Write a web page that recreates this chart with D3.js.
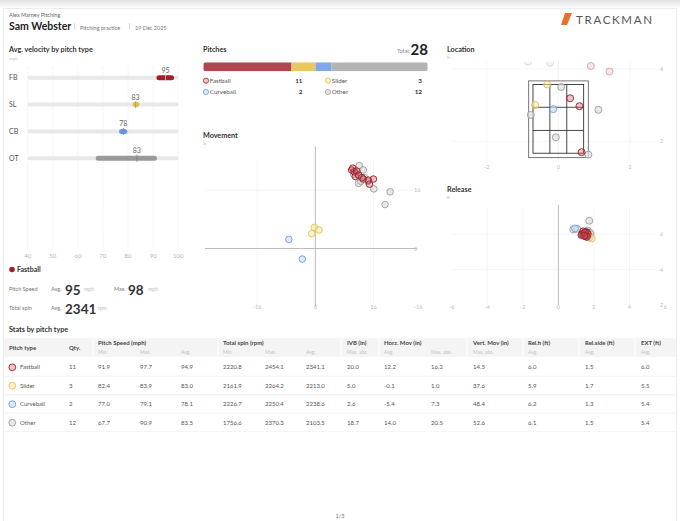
<!DOCTYPE html>
<html>
<head>
<meta charset="utf-8">
<script src="https://cdn.jsdelivr.net/npm/d3@7"></script>
<style>
  html, body { margin: 0; padding: 0; background: #fff; }
  svg { display: block; font-family: Lato, "Open Sans", sans-serif; }
</style>
</head>
<body>
<svg id="page" width="680" height="521"></svg>
<script>
/* global d3 */
const pitchTypes = ['Fastball', 'Slider', 'Curveball', 'Other'];
const pitchCodes = ['FB', 'SL', 'CB', 'OT'];
const pitchCounts = [11, 3, 2, 12];
const speedMin = [91.9, 82.4, 77.0, 67.7];
const speedMax = [97.7, 83.9, 79.1, 90.9];
const speedAvg = [94.9, 83.0, 78.1, 83.5];
const speedLabels = [95, 83, 78, 83];
const spinMin = [2220.8, 2161.9, 2226.7, 1756.6];
const spinMax = [2454.1, 2264.2, 2250.4, 2370.3];
const spinAvg = [2341.1, 2213.0, 2238.6, 2103.5];
const ivbMaxAbs = [20.0, 5.0, 2.6, 18.7];
const horzAvg = [12.2, -0.1, -5.4, 14.0];
const horzMaxAbs = [16.2, 1.0, 7.3, 20.5];
const vertMaxAbs = [14.5, 37.6, 48.4, 52.6];
const relHeightAvg = [6.0, 5.9, 6.2, 6.1];
const relSideAvg = [1.5, 1.7, 1.3, 1.5];
const extAvg = [6.0, 5.5, 5.4, 5.4];

const velocityTicks = [40, 50, 60, 70, 80, 90, 100];
const movementTicks = [-16, 0, 16];
const locationTicksX = [-2, 0, 2];
const locationTicksY = [2, 4];
const releaseTicksX = [-6, -4, -2, 0, 2, 4, 6];
const releaseTicksY = [2, 4, 6];

// [horizontal break, vertical break] in inches
const moveFastball = [[10.0, 21.6], [10.7, 21.1], [10.3, 22.1], [11.4, 21.3], [11.0, 19.8], [11.9, 20.2],
  [12.8, 19.5], [13.2, 19.1], [14.6, 18.8], [16.0, 19.1], [14.9, 17.7]];
const moveSlider = [[-0.3, 5.8], [1.0, 5.1], [-1.0, 4.1]];
const moveCurveball = [[-7.3, 2.5], [-3.6, -2.9]];
const moveOther = [[12.1, 22.8], [13.2, 21.6], [11.9, 17.9], [16.1, 16.4], [20.6, 15.6], [19.2, 12.1],
  [11.0, 21.0], [12.0, 20.0], [13.5, 19.5], [14.5, 18.5], [10.5, 20.5], [12.5, 18.5]];

// [side, height] at the plate in feet
const locFastball = [[0.33, 3.19], [0.59, 2.97], [0.65, 1.70], [0.91, 4.08], [1.43, 3.93], [1.2, 4.6],
  [0.4, 4.5], [1.6, 1.2], [-0.2, 4.7], [0.9, 1.1], [3.1, 3.3]];
const locSlider = [[-0.31, 3.57], [-0.65, 3.0], [-1.1, 1.0]];
const locCurveball = [[-0.14, 2.89], [-0.5, 0.9]];
const locOther = [[0.08, 3.5], [1.12, 2.87], [-0.77, 2.73], [-0.07, 2.11], [0.84, 1.63], [-0.23, 4.17],
  [-0.84, 4.2], [-0.5, 4.6], [1.8, 4.9], [0.2, 0.8], [-1.5, 4.5], [2.9, 2.5]];

// [release side, release height] in feet
const relFastball = [[1.45, 6.05], [1.5, 5.95], [1.35, 6.0], [1.6, 6.1], [1.55, 5.9], [1.4, 6.15],
  [1.65, 6.0], [1.3, 5.95], [1.5, 6.1], [1.6, 5.85], [1.45, 5.9]];
const relSlider = [[1.88, 5.76], [1.7, 5.95], [1.55, 6.0]];
const relCurveball = [[0.94, 6.32], [1.6, 6.1]];
const relOther = [[1.74, 6.75], [0.84, 6.26], [1.05, 6.3], [1.5, 6.0], [1.6, 6.1], [1.7, 5.9],
  [1.8, 6.0], [1.55, 5.85], [1.65, 6.2], [1.4, 6.05], [1.75, 5.8], [1.8, 6.05]];

const strokeColors = ['#9b1d25', '#e3c04c', '#6c9de3', '#9c9c9c'];
const fillColors = ['rgba(200,90,100,0.35)', 'rgba(250,232,165,0.55)', 'rgba(205,222,250,0.7)', 'rgba(222,222,222,0.7)'];
const barColors = ['#b0474f', '#e6c85c', '#7ea8ea', '#b3b3b3'];
const velColors = ['#a11f28', '#e3bf4a', '#6d9be0', '#9a9a9a'];

const svg = d3.select('#page');

function text(g, x, y, str, opts = {}) {
  return g.append('text')
    .attr('x', x)
    .attr('y', y)
    .attr('font-size', opts.size || 6)
    .attr('font-weight', opts.weight || 'normal')
    .attr('fill', opts.color || '#555')
    .attr('text-anchor', opts.anchor || 'start')
    .attr('letter-spacing', opts.spacing || null)
    .text(str);
}

// page card + top shadow
const defs = svg.append('defs');
const shade = defs.append('linearGradient').attr('id', 'shade').attr('x1', 0).attr('x2', 0).attr('y1', 0).attr('y2', 1);
shade.append('stop').attr('offset', '0%').attr('stop-color', '#e2e2e2');
shade.append('stop').attr('offset', '100%').attr('stop-color', '#fff');
svg.append('rect').attr('x', 0).attr('y', 0).attr('width', 680).attr('height', 9).attr('fill', 'url(#shade)');
svg.append('rect').attr('x', 3.5).attr('y', 8.5).attr('width', 673).attr('height', 520)
  .attr('fill', '#fff').attr('stroke', '#ececec');

// header
text(svg, 9, 17, 'Alex Marney Pitching', { size: 5.5, color: '#666' });
text(svg, 9, 30, 'Sam Webster', { size: 10.5, weight: 'bold', color: '#222' });
svg.append('line').attr('x1', 74.5).attr('x2', 74.5).attr('y1', 23).attr('y2', 30).attr('stroke', '#ddd');
text(svg, 80, 29.5, 'Pitching practice', { size: 5.5, color: '#777' });
svg.append('line').attr('x1', 129.5).attr('x2', 129.5).attr('y1', 23).attr('y2', 30).attr('stroke', '#ddd');
text(svg, 135, 29.5, '19 Dec 2025', { size: 5.5, color: '#777' });
svg.append('path').attr('d', 'M565,13 L572,13 L567,25 L561,25 Z').attr('fill', '#e4712e');
text(svg, 576, 24, 'TRACKMAN', { size: 11.5, color: '#555', spacing: 1.7 });

// ---- Avg. velocity by pitch type ----
text(svg, 9, 52, 'Avg. velocity by pitch type', { size: 7.2, weight: 'bold', color: '#333' });
text(svg, 9, 60, 'mph', { size: 4.5, color: '#bbb' });

const vx = d3.scaleLinear().domain([40, 100]).range([27.7, 178.3]);
const vy = d3.scalePoint().domain(pitchCodes).range([77.7, 158.3]);
const vel = svg.append('g');

vel.selectAll('line.grid').data(velocityTicks).enter().append('line')
  .attr('x1', d => vx(d)).attr('x2', d => vx(d)).attr('y1', 67).attr('y2', 250)
  .attr('stroke', '#ddd').attr('stroke-width', 0.6).attr('stroke-dasharray', '1,1.5');
vel.selectAll('text.tick').data(velocityTicks).enter().append('text')
  .attr('x', d => vx(d)).attr('y', 258).attr('text-anchor', 'middle')
  .attr('font-size', 6).attr('fill', '#b5b5b5').text(d => d);

vel.selectAll('text.code').data(pitchCodes).enter().append('text')
  .attr('x', 9).attr('y', d => vy(d) + 2.5).attr('font-size', 7).attr('fill', '#555').text(d => d);
vel.selectAll('rect.track').data(pitchCodes).enter().append('rect')
  .attr('x', vx(40)).attr('y', d => vy(d) - 2).attr('width', vx(100) - vx(40)).attr('height', 4)
  .attr('rx', 2).attr('fill', '#e8e8e8');
vel.selectAll('rect.range').data(pitchCodes).enter().append('rect')
  .attr('x', (d, i) => vx(speedMin[i]) - 1.5)
  .attr('y', d => vy(d) - 2.5)
  .attr('width', (d, i) => vx(speedMax[i]) - vx(speedMin[i]) + 3)
  .attr('height', 5).attr('rx', 2.5)
  .attr('fill', (d, i) => velColors[i]);
vel.selectAll('line.avg').data(pitchCodes).enter().append('line')
  .attr('x1', (d, i) => vx(speedAvg[i])).attr('x2', (d, i) => vx(speedAvg[i]))
  .attr('y1', d => vy(d) - 3.5).attr('y2', d => vy(d) + 3.5)
  .attr('stroke', (d, i) => (i === 0 ? '#f3c9cc' : d3.color(velColors[i]).darker(0.6)))
  .attr('stroke-width', 0.8);
vel.selectAll('text.avg').data(pitchCodes).enter().append('text')
  .attr('x', (d, i) => vx(speedAvg[i])).attr('y', d => vy(d) - 5)
  .attr('text-anchor', 'middle').attr('font-size', 7).attr('fill', '#666')
  .text((d, i) => speedLabels[i]);

// ---- Fastball summary ----
svg.append('circle').attr('cx', 12).attr('cy', 269.5).attr('r', 2.8).attr('fill', velColors[0]);
text(svg, 17, 272, pitchTypes[0], { size: 7, weight: 'bold', color: '#333' });
text(svg, 9, 291, 'Pitch Speed', { size: 5.5, color: '#777' });
text(svg, 51, 291, 'Avg.', { size: 5.5, color: '#777' });
text(svg, 65, 295, speedLabels[0], { size: 13.5, weight: 'bold', color: '#333' });
text(svg, 84, 291, 'mph', { size: 5, color: '#bbb' });
text(svg, 114, 291, 'Max.', { size: 5.5, color: '#777' });
text(svg, 128, 295, Math.round(speedMax[0]), { size: 13.5, weight: 'bold', color: '#333' });
text(svg, 148, 291, 'mph', { size: 5, color: '#bbb' });
text(svg, 9, 310, 'Total spin', { size: 5.5, color: '#777' });
text(svg, 51, 310, 'Avg.', { size: 5.5, color: '#777' });
text(svg, 65, 314, Math.round(spinAvg[0]), { size: 13.5, weight: 'bold', color: '#333' });
text(svg, 98, 310, 'rpm', { size: 5, color: '#bbb' });

// ---- Pitches ----
const total = d3.sum(pitchCounts);
text(svg, 203, 52, 'Pitches', { size: 7.2, weight: 'bold', color: '#333' });
text(svg, 410, 53, 'Total:', { size: 5.5, color: '#888', anchor: 'end' });
text(svg, 428, 55, total, { size: 15, weight: 'bold', color: '#222', anchor: 'end' });
const px = d3.scaleLinear().domain([0, total]).range([203.3, 427.7]);
const starts = [0, ...d3.cumsum(pitchCounts)].slice(0, pitchCounts.length);
defs.append('clipPath').attr('id', 'barClip').append('rect')
  .attr('x', px(0)).attr('y', 62.3).attr('width', px(total) - px(0)).attr('height', 9).attr('rx', 2.5);
svg.append('g').attr('clip-path', 'url(#barClip)')
  .selectAll('rect').data(pitchCounts).enter().append('rect')
  .attr('x', (d, i) => px(starts[i])).attr('y', 62.3)
  .attr('width', (d, i) => px(starts[i] + d) - px(starts[i])).attr('height', 9)
  .attr('fill', (d, i) => barColors[i]);
const legendX = [206, 328];
const legendCountX = [302.5, 422];
const legendY = [80.7, 92];
pitchTypes.forEach((name, i) => {
  const lgx = legendX[i % 2];
  const lgy = legendY[Math.floor(i / 2)];
  svg.append('circle').attr('cx', lgx).attr('cy', lgy).attr('r', 2.6)
    .attr('fill', fillColors[i]).attr('stroke', strokeColors[i]).attr('stroke-width', 0.8);
  text(svg, lgx + 3.8, lgy + 2.2, name, { size: 6.3, color: '#555' });
  text(svg, legendCountX[i % 2], lgy + 2.2, pitchCounts[i], { size: 6.3, weight: 'bold', color: '#333', anchor: 'end' });
});

function drawPoints(g, sets, sx, sy, r, fade) {
  const order = [3, 2, 1, 0];
  order.forEach(i => {
    g.selectAll(null).data(sets[i]).enter().append('circle')
      .attr('cx', d => sx(d[0])).attr('cy', d => sy(d[1])).attr('r', r)
      .attr('fill', fillColors[i]).attr('stroke', strokeColors[i]).attr('stroke-width', 0.9)
      .attr('opacity', d => (fade && fade(d) ? 0.4 : 1));
  });
}

// ---- Movement ----
text(svg, 203, 138, 'Movement', { size: 7.2, weight: 'bold', color: '#333' });
text(svg, 203, 145, 'in', { size: 4.5, color: '#bbb' });
const mx = d3.scaleLinear().domain([-30.4, 28]).range([205, 417]);
const my = d3.scaleLinear().domain([-16, 28]).range([306.7, 146.7]);
const mov = svg.append('g');
mov.selectAll(null).data(movementTicks.filter(d => d !== 0)).enter().append('line')
  .attr('x1', d => mx(d)).attr('x2', d => mx(d)).attr('y1', my(24.5)).attr('y2', my(-16))
  .attr('stroke', '#eee').attr('stroke-width', 0.6);
mov.append('line').attr('x1', mx(-30.4)).attr('x2', mx(28)).attr('y1', my(16)).attr('y2', my(16))
  .attr('stroke', '#eee').attr('stroke-width', 0.6);
mov.append('line').attr('x1', mx(-30.4)).attr('x2', mx(28)).attr('y1', my(0)).attr('y2', my(0))
  .attr('stroke', '#aaa').attr('stroke-width', 0.8);
mov.append('line').attr('x1', mx(0)).attr('x2', mx(0)).attr('y1', my(28)).attr('y2', my(-16))
  .attr('stroke', '#aaa').attr('stroke-width', 0.8);
mov.selectAll(null).data(movementTicks).enter().append('text')
  .attr('x', d => mx(d)).attr('y', my(-16) + 2).attr('text-anchor', 'middle')
  .attr('font-size', 5.5).attr('fill', '#bbb').text(d => d);
mov.selectAll(null).data(movementTicks).enter().append('text')
  .attr('x', 414).attr('y', d => my(d) + 2).attr('text-anchor', 'start')
  .attr('font-size', 5.5).attr('fill', '#bbb').text(d => d);
drawPoints(mov, [moveFastball, moveSlider, moveCurveball, moveOther], mx, my, 3.3);

// ---- Location ----
text(svg, 447, 52, 'Location', { size: 7.2, weight: 'bold', color: '#333' });
text(svg, 447, 59, 'ft', { size: 4.5, color: '#bbb' });
const lx = d3.scaleLinear().domain([-3, 2.75]).range([451, 656.7]);
const ly = d3.scaleLinear().domain([1.4, 4.2]).range([163, 61.7]);
const loc = svg.append('g');
defs.append('clipPath').attr('id', 'locClip').append('rect')
  .attr('x', lx(-3)).attr('y', ly(4.2)).attr('width', lx(2.75) - lx(-3)).attr('height', ly(1.4) - ly(4.2));
loc.selectAll(null).data(locationTicksX).enter().append('line')
  .attr('x1', d => lx(d)).attr('x2', d => lx(d)).attr('y1', ly(4.2)).attr('y2', ly(1.45))
  .attr('stroke', '#eee').attr('stroke-width', 0.6);
loc.selectAll(null).data(locationTicksY).enter().append('line')
  .attr('x1', lx(-3)).attr('x2', lx(2.75)).attr('y1', d => ly(d)).attr('y2', d => ly(d))
  .attr('stroke', '#eee').attr('stroke-width', 0.6);
loc.selectAll(null).data(locationTicksX).enter().append('text')
  .attr('x', d => lx(d)).attr('y', 169).attr('text-anchor', 'middle')
  .attr('font-size', 5.5).attr('fill', '#bbb').text(d => d);
loc.selectAll(null).data(locationTicksY).enter().append('text')
  .attr('x', 660).attr('y', d => ly(d) + 2).attr('font-size', 5.5).attr('fill', '#bbb').text(d => d);
loc.append('rect').attr('x', lx(-0.83)).attr('y', ly(3.67))
  .attr('width', lx(0.84) - lx(-0.83)).attr('height', ly(1.55) - ly(3.67))
  .attr('fill', 'none').attr('stroke', '#777').attr('stroke-width', 1);
const zoneX = [-0.708, -0.236, 0.236, 0.708];
const zoneY = [1.67, 2.3, 2.94, 3.57];
loc.append('rect').attr('x', lx(zoneX[0])).attr('y', ly(zoneY[3]))
  .attr('width', lx(zoneX[3]) - lx(zoneX[0])).attr('height', ly(zoneY[0]) - ly(zoneY[3]))
  .attr('fill', 'none').attr('stroke', '#333').attr('stroke-width', 0.9);
loc.selectAll(null).data(zoneX.slice(1, 3)).enter().append('line')
  .attr('x1', d => lx(d)).attr('x2', d => lx(d)).attr('y1', ly(zoneY[3])).attr('y2', ly(zoneY[0]))
  .attr('stroke', '#333').attr('stroke-width', 0.9);
loc.selectAll(null).data(zoneY.slice(1, 3)).enter().append('line')
  .attr('x1', lx(zoneX[0])).attr('x2', lx(zoneX[3])).attr('y1', d => ly(d)).attr('y2', d => ly(d))
  .attr('stroke', '#333').attr('stroke-width', 0.9);
const locPts = loc.append('g').attr('clip-path', 'url(#locClip)');
drawPoints(locPts, [locFastball, locSlider, locCurveball, locOther], lx, ly, 3.5, d => d[1] > 3.85);

// ---- Release ----
text(svg, 447, 192, 'Release', { size: 7.2, weight: 'bold', color: '#333' });
text(svg, 447, 199, 'ft', { size: 4.5, color: '#bbb' });
const rx = d3.scaleLinear().domain([-6, 6]).range([451.7, 665]);
const ry = d3.scaleLinear().domain([2, 7.64]).range([305, 205]);
const rel = svg.append('g');
rel.selectAll(null).data(releaseTicksX.filter(d => d !== 0 && Math.abs(d) < 6)).enter().append('line')
  .attr('x1', d => rx(d)).attr('x2', d => rx(d)).attr('y1', ry(7.45)).attr('y2', ry(2))
  .attr('stroke', '#eee').attr('stroke-width', 0.6);
rel.selectAll(null).data(releaseTicksY.filter(d => d !== 2)).enter().append('line')
  .attr('x1', rx(-6)).attr('x2', rx(5.5)).attr('y1', d => ry(d)).attr('y2', d => ry(d))
  .attr('stroke', '#eee').attr('stroke-width', 0.6);
rel.append('line').attr('x1', rx(0)).attr('x2', rx(0)).attr('y1', ry(7.64)).attr('y2', ry(2))
  .attr('stroke', '#aaa').attr('stroke-width', 0.8);
rel.selectAll(null).data(releaseTicksX).enter().append('text')
  .attr('x', d => rx(d)).attr('y', 309).attr('text-anchor', 'middle')
  .attr('font-size', 5.5).attr('fill', '#bbb').text(d => d);
rel.selectAll(null).data(releaseTicksY).enter().append('text')
  .attr('x', 660).attr('y', d => ry(d) + 2).attr('font-size', 5.5).attr('fill', '#bbb').text(d => d);
drawPoints(rel, [relFastball, relSlider, relCurveball, relOther], rx, ry, 3.5);

// ---- Stats table ----
text(svg, 9, 332, 'Stats by pitch type', { size: 7.2, weight: 'bold', color: '#333' });
const table = svg.append('g');
table.append('rect').attr('x', 4).attr('y', 338.3).attr('width', 672).attr('height', 18.4).attr('fill', '#f4f4f4');
const groupSeps = [93, 218, 341, 379, 467, 523, 579, 635];
table.selectAll(null).data(groupSeps).enter().append('line')
  .attr('x1', d => d).attr('x2', d => d).attr('y1', 338.3).attr('y2', 356.7)
  .attr('stroke', '#fff').attr('stroke-width', 1);

const groups = [
  { label: 'Pitch type', x: 9 }, { label: 'Qty.', x: 69 }, { label: 'Pitch Speed (mph)', x: 98, sub: true },
  { label: 'Total spin (rpm)', x: 223, sub: true }, { label: 'IVB (in)', x: 347, sub: true },
  { label: 'Horz. Mov (in)', x: 384, sub: true }, { label: 'Vert. Mov (in)', x: 473, sub: true },
  { label: 'Rel.h (ft)', x: 528, sub: true }, { label: 'Rel.side (ft)', x: 585, sub: true },
  { label: 'EXT (ft)', x: 641, sub: true },
];
groups.forEach(g => {
  text(table, g.x, g.sub ? 345 : 350, g.label, { size: 6, weight: 'bold', color: '#444' });
});
const colX = [98, 140, 181, 223, 265, 306, 347, 384, 431, 473, 528, 585, 641];
const subLabels = ['Min.', 'Max.', 'Avg.', 'Min.', 'Max.', 'Avg.', 'Max. abs.', 'Avg.', 'Max. abs.', 'Max. abs.', 'Avg.', 'Avg.', 'Avg.'];
table.selectAll(null).data(subLabels).enter().append('text')
  .attr('x', (d, i) => colX[i]).attr('y', 353.5).attr('font-size', 5).attr('fill', '#c4c4c4').text(d => d);

const columns = [speedMin, speedMax, speedAvg, spinMin, spinMax, spinAvg, ivbMaxAbs, horzAvg, horzMaxAbs,
  vertMaxAbs, relHeightAvg, relSideAvg, extAvg];
const rowY = d3.scalePoint().domain(pitchTypes).range([367.3, 422.7]);
pitchTypes.forEach((name, i) => {
  const y = rowY(name);
  table.append('circle').attr('cx', 12.3).attr('cy', y).attr('r', 3.4)
    .attr('fill', fillColors[i]).attr('stroke', strokeColors[i]).attr('stroke-width', 0.9);
  text(table, 20, y + 2, name, { size: 6, color: '#555' });
  text(table, 69, y + 2, pitchCounts[i], { size: 6, color: '#555' });
  columns.forEach((col, j) => {
    text(table, colX[j], y + 2, col[i].toFixed(1), { size: 6, color: '#555' });
  });
  table.append('line').attr('x1', 4).attr('x2', 676).attr('y1', y + 9).attr('y2', y + 9)
    .attr('stroke', '#efefef').attr('stroke-width', 0.8);
});

text(svg, 340, 518, '1/3', { size: 5.5, color: '#777', anchor: 'middle' });
</script>
</body>
</html>
